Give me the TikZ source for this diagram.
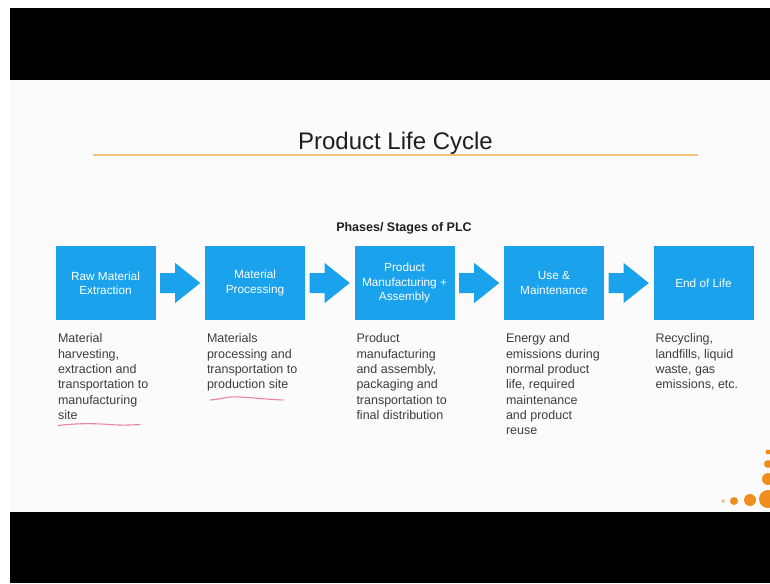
\documentclass[tikz,border=0pt]{standalone}
\usepackage{fontspec}
\setmainfont{Liberation Sans}
\usetikzlibrary{calc}

\definecolor{phaseblue}{RGB}{27,162,236}
\definecolor{dotorange}{RGB}{240,142,28}
\definecolor{ruleorange}{RGB}{246,196,120}
\definecolor{inkpink}{RGB}{226,112,150}
\definecolor{textgray}{RGB}{62,62,62}
\definecolor{slidebg}{RGB}{251,251,251}

\tikzset{
	stage/.style={fill=phaseblue, minimum width=100pt, minimum height=74pt, inner sep=0pt, text=white, align=center, font=\fontsize{11.8}{14.3}\selectfont},
	stagetext/.style={anchor=north west, inner sep=0pt, align=left, text=textgray, font=\fontsize{12.5}{15.3}\selectfont},
	inkline/.style={draw=inkpink, line width=1.1pt, line cap=round, opacity=0.85},
	dot/.style={fill=dotorange}
}

\begin{document}
\begin{tikzpicture}[x=1pt, y=-1pt]
	\def\X{105.5}
	\def\Y{283}
	\def\D{149.5}
	\def\Sh{10}
	\def\Hd{20}

	\useasboundingbox (0,0) rectangle (770,583);
	\fill[white]		(0,0) rectangle (770,583);
	\fill[black]		(10,8) rectangle (770,80);
	\fill[slidebg]		(10,80) rectangle (770,512);
	\fill[black]		(10,512) rectangle (770,583);

	\node[anchor=base, text=black!88, font=\fontsize{24}{28}\selectfont] (title) at (395.5,149) {Product Life Cycle};
	\draw[ruleorange, line width=1.2pt]	(93,155) -- (698,155);
	\node[anchor=base, text=black!88, font=\bfseries\fontsize{12.5}{15}\selectfont] (phases) at (404,231.5) {Phases/ Stages of PLC};

	\node[stage] (raw)  at (\X,\Y)		{Raw Material\\Extraction};
	\node[stage] (proc) at (\X+\D,\Y)	{Material\\Processing};
	\node[stage] (manu) at (\X+2*\D,\Y)	{Product\\Manufacturing +\\Assembly};
	\node[stage] (use)  at (\X+3*\D,\Y)	{Use \&\\Maintenance};
	\node[stage] (eol)  at (\X+4*\D,\Y)	{End of Life};

	\foreach \a/\b in {raw/proc, proc/manu, manu/use, use/eol}
		\fill[phaseblue] ($(\a.east)+(4.5,-\Sh)$) -- ($(\a.east)+(19.5,-\Sh)$) -- ($(\a.east)+(19.5,-\Hd)$) -- ($(\b.west)+(-4.5,0)$)
			-- ($(\a.east)+(19.5,\Hd)$) -- ($(\a.east)+(19.5,\Sh)$) -- ($(\a.east)+(4.5,\Sh)$) -- cycle;

	\node[stagetext] (rawtext)  at ($(raw.south west)+(2.5,13.5)$)	{Material\\harvesting,\\extraction and\\transportation to\\manufacturing\\site};
	\node[stagetext] (proctext) at ($(proc.south west)+(2,13.5)$)	{Materials\\processing and\\transportation to\\production site};
	\node[stagetext] (manutext) at ($(manu.south west)+(2,13.5)$)	{Product\\manufacturing\\and assembly,\\packaging and\\transportation to\\final distribution};
	\node[stagetext] (usetext)  at ($(use.south west)+(2,13.5)$)	{Energy and\\emissions during\\normal product\\life, required\\maintenance\\and product\\reuse};
	\node[stagetext] (eoltext)  at ($(eol.south west)+(2,13.5)$)	{Recycling,\\landfills, liquid\\waste, gas\\emissions, etc.};

	% pen marks
	\draw[inkline]	(58,425.5) .. controls (80,423) and (95,423.5) .. (110,424.5) .. controls (122,425.5) and (132,425) .. (140,424.5);
	\draw[inkline]	(210,400) .. controls (222,399) and (228,396.5) .. (236,396.8) .. controls (250,397.5) and (270,399.5) .. (283,400);

	% corner dots
	\begin{scope}
		\clip (10,80) rectangle (770,512);
		\fill[dot, opacity=0.6]	(723,501) circle (1.8);
		\fill[dot]		(734,501) circle (4);
		\fill[dot]		(750,500) circle (6);
		\fill[dot]		(768,499) circle (9);
		\fill[dot]		(768,479) circle (6);
		\fill[dot]		(768,464) circle (4);
		\fill[dot]		(768,452) circle (2.5);
	\end{scope}
\end{tikzpicture}
\end{document}
